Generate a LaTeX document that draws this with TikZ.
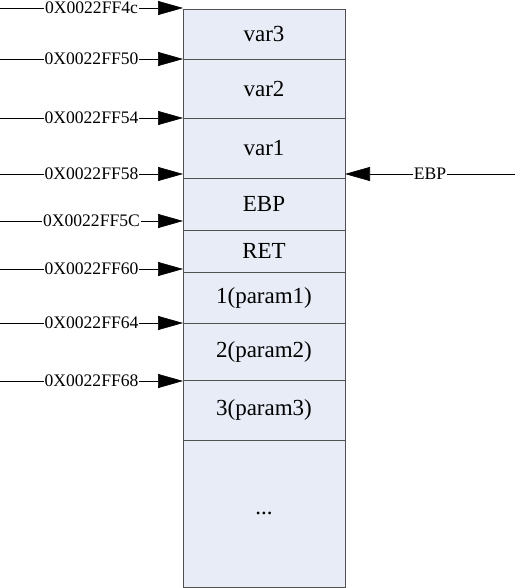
\documentclass[tikz,border=0pt]{standalone}
\usepackage{fontspec}
\setmainfont{Liberation Serif}
\usetikzlibrary{arrows.meta,positioning}
\definecolor{cellfill}{RGB}{231,236,247}
\definecolor{cellline}{RGB}{80,80,80}

\begin{document}
\begin{tikzpicture}[x=1pt, y=-1pt, >={Triangle[length=25pt,width=14pt]},
        cell/.style={draw=cellline, fill=cellfill, minimum width=162pt, inner sep=0pt, outer sep=0pt, font=\fontsize{23}{26}\selectfont},
        addr/.style={->, line width=0.6pt},
        lbl/.style={fill=white, inner sep=1pt, font=\fontsize{17.6}{20}\selectfont}]
        \useasboundingbox (0,0) rectangle (515,588);
        % 栈帧
        \node[cell, anchor=north, minimum height=50pt] (var3) at (264,9) {var3};
        \node[cell, minimum height=59pt, below=0pt of var3] (var2) {var2};
        \node[cell, minimum height=60pt, below=0pt of var2] (var1) {var1};
        \node[cell, minimum height=52pt, below=0pt of var1] (ebp) {EBP};
        \node[cell, minimum height=42pt, below=0pt of ebp] (ret) {RET};
        \node[cell, minimum height=51pt, below=0pt of ret] (p1) {1(param1)};
        \node[cell, minimum height=57pt, below=0pt of p1] (p2) {2(param2)};
        \node[cell, minimum height=60pt, below=0pt of p2] (p3) {3(param3)};
        \node[cell, minimum height=147pt, below=0pt of p3] (rest) {...};

        % 地址
        \foreach \y/\t in {8/0X0022FF4c, 59/0X0022FF50, 118/0X0022FF54, 174/0X0022FF58,
                221/0X0022FF5C, 269/0X0022FF60, 323/0X0022FF64, 381/0X0022FF68}
            \draw[addr] (0,\y) coordinate (a) -- node[lbl] {\t} (a -| var3.west);

        % EBP 指针
        \draw[addr] (515,174) coordinate (ebpptr) -- node[lbl] {EBP} (ebpptr -| ebp.east);
    \end{tikzpicture}
\end{document}
